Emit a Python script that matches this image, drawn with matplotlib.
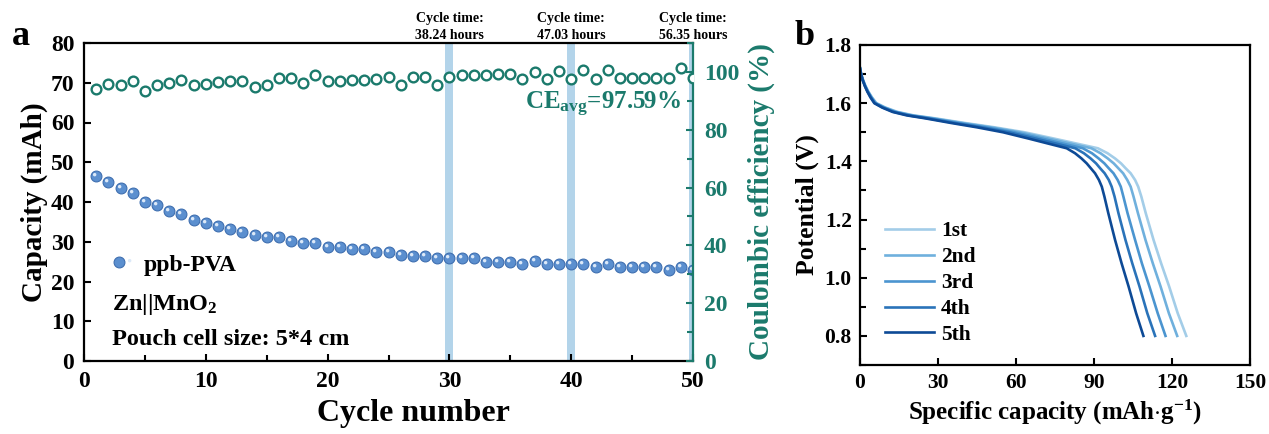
import matplotlib
matplotlib.use('Agg')
import matplotlib.pyplot as plt
import numpy as np
from matplotlib.path import Path
from matplotlib.ticker import MultipleLocator, FormatStrFormatter
from matplotlib.legend_handler import HandlerTuple
import matplotlib.transforms as mtransforms

plt.rcParams['font.family'] = ['Liberation Serif', 'DejaVu Serif']
plt.rcParams['font.weight'] = 'bold'
plt.rcParams['axes.labelweight'] = 'bold'
plt.rcParams['mathtext.fontset'] = 'custom'
plt.rcParams['mathtext.rm'] = 'Liberation Serif:bold'
plt.rcParams['mathtext.it'] = 'Liberation Serif:bold:italic'
plt.rcParams['mathtext.bf'] = 'Liberation Serif:bold'
plt.rcParams['mathtext.default'] = 'rm'

# ---------------- data: panel a ----------------
cycles = list(range(1, 51))
capacity = [46.5, 45.1, 43.6, 42.2, 39.9, 39.2, 37.7, 37.0, 35.5, 34.8,
            34.0, 33.1, 32.5, 31.7, 31.1, 31.1, 30.3, 29.6, 29.6, 28.8,
            28.8, 28.1, 28.1, 27.3, 27.3, 26.6, 26.5, 26.4, 25.8, 25.8,
            25.8, 25.8, 25.0, 25.0, 25.0, 24.3, 25.2, 24.3, 24.3, 24.3,
            24.3, 23.7, 24.3, 23.7, 23.7, 23.7, 23.7, 22.9, 23.7, 22.9]
ce = [94.1, 95.9, 95.3, 96.7, 93.4, 95.5, 96.3, 97.2, 95.5, 95.9,
      96.4, 96.8, 96.8, 94.9, 95.3, 97.9, 98.0, 96.1, 99.0, 96.7,
      96.7, 97.2, 97.2, 97.5, 98.4, 95.5, 98.4, 98.4, 95.5, 98.4,
      99.0, 99.0, 99.0, 99.4, 99.2, 97.4, 100.1, 97.4, 100.4, 97.6,
      100.5, 97.5, 100.5, 98.0, 98.0, 98.0, 98.0, 98.0, 101.3, 98.0]
marked_cycles = [30, 40, 50]
cycle_times = ['38.24', '47.03', '56.35']
ce_avg = '97.59'

# ---------------- data: panel b ----------------
curve_labels = ['1st', '2nd', '3rd', '4th', '5th']
potential = [1.72, 1.70, 1.68, 1.66, 1.64, 1.62, 1.60, 1.585, 1.57, 1.558,
             1.548, 1.532, 1.517, 1.500, 1.478, 1.462, 1.445, 1.428, 1.41, 1.393,
             1.376, 1.359, 1.336, 1.313, 1.279, 1.222, 1.130, 1.050, 0.970, 0.878,
             0.800]
cap_1st = [0, 0.5, 1.2, 2.1, 3.2, 4.6, 6.3, 9.8, 14.4, 20.7,
           28.8, 40.3, 51.8, 63.3, 74.8, 82.9, 91.5, 95.2, 98.1, 100.4,
           102.2, 104.1, 105.8, 107.0, 108.2, 109.9, 112.9, 115.8, 118.9, 122.2,
           125.5]
cap_2nd = [0, 0.4, 1.1, 2.0, 3.1, 4.5, 6.2, 9.5, 14.0, 20.1,
           28.0, 39.2, 50.4, 61.5, 72.7, 80.6, 89.0, 92.5, 95.3, 97.6,
           99.4, 101.2, 102.8, 104.1, 105.2, 106.9, 109.8, 112.6, 115.6, 118.8,
           122.0]
cap_3rd = [0, 0.4, 1.1, 1.9, 3.0, 4.3, 5.9, 9.2, 13.5, 19.4,
           27.0, 37.7, 48.5, 59.3, 70.1, 77.6, 85.7, 89.2, 91.8, 94.0,
           95.7, 97.5, 99.1, 100.3, 101.3, 102.9, 105.8, 108.4, 111.3, 114.5,
           117.5]
cap_4th = [0, 0.4, 1.0, 1.9, 2.9, 4.2, 5.7, 8.8, 13.0, 18.7,
           26.0, 36.4, 46.8, 57.3, 67.7, 75.0, 82.8, 86.1, 88.7, 90.8,
           92.4, 94.1, 95.7, 96.8, 97.9, 99.4, 102.1, 104.7, 107.5, 110.5,
           113.5]
cap_5th = [0, 0.4, 1.0, 1.8, 2.8, 4.0, 5.5, 8.5, 12.5, 18.0,
           25.0, 35.0, 45.0, 55.0, 65.0, 72.0, 79.5, 82.7, 85.2, 87.2,
           88.8, 90.4, 91.9, 93.0, 94.0, 95.5, 98.1, 100.6, 103.3, 106.2,
           109.0]
curves = [cap_1st, cap_2nd, cap_3rd, cap_4th, cap_5th]
curve_colors = ['#a3cde8', '#6fb0dd', '#4b95d0', '#2a73b9', '#0d4a96']

TEAL = '#1b7a6c'
BALL = '#5b8fcf'
BALL_EDGE = '#3f6fb0'
HILITE = '#dce9f8'
BAND = '#b3d4ea'

fig = plt.figure(figsize=(12.69, 4.34), dpi=100)
ax1 = fig.add_axes([84/1269, (434-361)/434, 609/1269, 318/434])
ax2 = ax1.twinx()
axb = fig.add_axes([860/1269, (434-365)/434, 390/1269, 320/434])

# bands
for c in marked_cycles:
    ax1.axvspan(c - 0.33, c + 0.33, color=BAND, lw=0, zorder=0)

# highlight marker (offset small circle within unit box)
circ = Path.circle(center=(-0.17, 0.17), radius=0.16)
hl_verts = np.concatenate([[[0.5, 0.5], [-0.5, -0.5]], circ.vertices])
hl_codes = np.concatenate([[Path.MOVETO, Path.MOVETO], circ.codes])
hl_marker = Path(hl_verts, hl_codes)

ball, = ax1.plot(cycles, capacity, ls='none', marker='o', ms=7.8,
                 mfc=BALL, mec=BALL_EDGE, mew=0.8, zorder=3)
hl, = ax1.plot(cycles, capacity, ls='none', marker=hl_marker, ms=7.8,
               mfc=HILITE, mec='none', zorder=4)

ax2.plot(cycles, ce, ls='none', marker='o', ms=7, mfc='white', mec=TEAL,
         mew=1.7, zorder=3)

ax1.set_xlim(0, 50)
ax1.set_ylim(0, 80)
ax2.set_ylim(0, 110)
ax1.xaxis.set_major_locator(MultipleLocator(10))
ax1.xaxis.set_minor_locator(MultipleLocator(5))
ax1.yaxis.set_major_locator(MultipleLocator(10))
ax2.yaxis.set_major_locator(MultipleLocator(20))
ax2.yaxis.set_minor_locator(MultipleLocator(10))

for sp in ax1.spines.values():
    sp.set_linewidth(1.6)
ax1.spines['right'].set_visible(False)
for sp in ['top', 'left', 'bottom']:
    ax2.spines[sp].set_visible(False)
ax2.spines['right'].set_linewidth(1.6)
ax2.spines['right'].set_color(TEAL)

ax1.tick_params(which='both', direction='in', width=1.5, labelsize=17, top=False, right=False)
ax1.tick_params(which='major', length=5, pad=7)
ax1.tick_params(which='minor', length=4)
ax2.tick_params(which='both', direction='in', width=1.5, labelsize=17,
                colors=TEAL, pad=8)
ax2.tick_params(which='major', length=5)
ax2.tick_params(which='minor', length=4)

ax1.set_xlabel('Cycle number', fontsize=23)
ax1.xaxis.set_label_coords(0.541, -0.118)
ax1.set_ylabel('Capacity (mAh)', fontsize=21, labelpad=2)
ax2.set_ylabel('Coulombic efficiency (%)', fontsize=21, color=TEAL, labelpad=6)

tr = mtransforms.blended_transform_factory(ax1.transData, ax1.transAxes)
for c, t in zip(marked_cycles, cycle_times):
    ax1.text(c, 1.003, 'Cycle time:\n' + t + ' hours', transform=tr,
             ha='center', va='bottom', fontsize=10, linespacing=1.45)

ax1.text(0.98, 0.79, 'CE$_{\\rm avg}$=' + ce_avg + '%', transform=ax1.transAxes,
         ha='right', va='baseline', fontsize=18, color=TEAL)

leg = ax1.legend([(ball, hl)], ['ppb-PVA'], handler_map={tuple: HandlerTuple(ndivide=None)},
                 loc='center left', bbox_to_anchor=(0.048, 0.302), frameon=False,
                 fontsize=17, handlelength=1.0, handletextpad=0.3,
                 borderpad=0, borderaxespad=0)
ax1.text(0.046, 0.160, 'Zn||MnO$_2$', transform=ax1.transAxes, fontsize=17.5,
         ha='left', va='baseline')
ax1.text(0.046, 0.050, 'Pouch cell size: 5*4 cm', transform=ax1.transAxes,
         fontsize=17.5, ha='left', va='baseline')

# ---------------- panel b ----------------
for lab, xs, col in zip(curve_labels, curves, curve_colors):
    axb.plot(xs, potential, color=col, lw=1.9, label=lab,
             solid_joinstyle='round')
axb.set_xlim(0, 150)
axb.set_ylim(0.7, 1.8)
axb.xaxis.set_major_locator(MultipleLocator(30))
axb.yaxis.set_major_locator(MultipleLocator(0.2))
axb.yaxis.set_minor_locator(MultipleLocator(0.1))
axb.yaxis.set_major_formatter(FormatStrFormatter('%.1f'))
for sp in axb.spines.values():
    sp.set_linewidth(1.6)
axb.tick_params(which='both', direction='in', width=1.5, labelsize=15.5)
axb.tick_params(which='major', length=5, pad=6)
axb.tick_params(which='minor', length=4)
axb.set_xlabel('Specific capacity (mAh$\\cdot$g$^{-1}$)', fontsize=18, labelpad=3)
axb.set_ylabel('Potential (V)', fontsize=18.5, labelpad=4)
axb.legend(loc='upper left', bbox_to_anchor=(0.064, 0.449), frameon=False,
           fontsize=15.5, handlelength=2.3, handletextpad=0.3, labelspacing=0.27,
           borderpad=0, borderaxespad=0)

fig.text(12/1269, (434-45)/434, 'a', fontsize=26, ha='left', va='baseline')
fig.text(795/1269, (434-45)/434, 'b', fontsize=26, ha='left', va='baseline')

fig.savefig('out.png', dpi=100)
